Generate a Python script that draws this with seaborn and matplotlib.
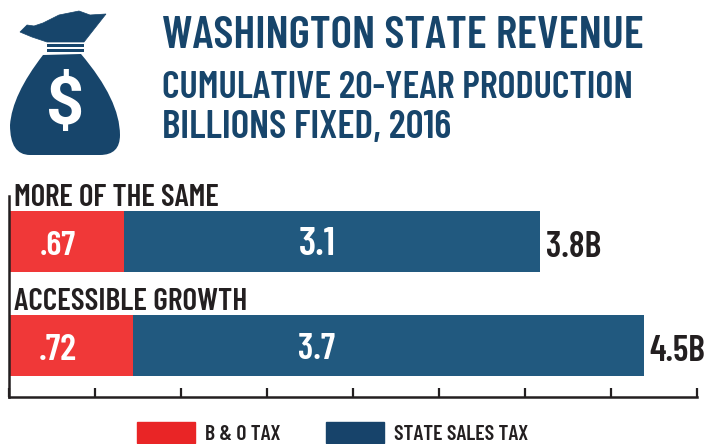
import matplotlib
matplotlib.use("Agg")
import matplotlib.pyplot as plt
from matplotlib.patches import PathPatch, Patch, Rectangle
from matplotlib.path import Path
from matplotlib import font_manager as fm
import seaborn as sns
import pandas as pd

scenarios = ["MORE OF THE SAME", "ACCESSIBLE GROWTH"]
bo_tax = [0.67, 0.72]
sales_tax_drawn = [2.417, 2.97]
bo_labels = [".67", ".72"]
sales_labels = ["3.1", "3.7"]
total_labels = ["3.8B", "4.5B"]
tick_values = [0, .5, 1, 1.5, 2, 2.5, 3, 3.5, 4]

W, H = 707, 444
sns.set_theme(style="white")
installed = {f.name for f in fm.fontManager.ttflist}
NARROW = [n for n in ["Barlow Condensed", "Oswald", "Archivo Narrow", "Roboto"] if n in installed] + ["DejaVu Sans"]
plt.rcParams["font.family"] = NARROW
INK = "#231F20"; NAVY = "#17456B"
WT = 600

fig = plt.figure(figsize=(W / 100, H / 100), dpi=100)
ax = fig.add_axes([9 / W, 1 - 397 / H, 688 / W, 201 / H])
df = pd.DataFrame({"scenario": scenarios, "bo": bo_tax, "sales": sales_tax_drawn})
df["total"] = df["bo"] + df["sales"]
sns.barplot(data=df, y="scenario", x="total", color="#21597F", width=0.587, saturation=1, linewidth=0, ax=ax, orient="h")
sns.barplot(data=df, y="scenario", x="bo", color="#F03838", width=0.587, saturation=1, linewidth=0, ax=ax, orient="h")
ax.set_xlim(0, 4); ax.set_ylim(1.495, -0.4375)
ax.set_xlabel(""); ax.set_ylabel("")
ax.set_yticks([]); ax.set_xticks(tick_values); ax.set_xticklabels([])
ax.tick_params(axis="x", direction="in", length=6.5, width=1.6, color=INK, bottom=True)
for s in ("top", "right"):
    ax.spines[s].set_visible(False)
for s in ("left", "bottom"):
    ax.spines[s].set_color(INK); ax.spines[s].set_linewidth(1.8)
ax.patch.set_alpha(0)

renderer = fig.canvas.get_renderer()
def fit(t, width_px):
    """Scale a text's font size so that it spans the reference's width."""
    t.set_fontsize(t.get_fontsize() * width_px / t.get_window_extent(renderer).width)
    return t

bo_w = [36, 38]; sales_w = [37, 37]; total_w = [55, 56]; name_w = [206, 233]
for i, row in df.iterrows():
    fit(ax.text(0.285, i + .045, bo_labels[i], color="white", ha="center", va="center", fontsize=25, fontweight=WT), bo_w[i])
    fit(ax.text(1.79, i + .035, sales_labels[i], color="white", ha="center", va="center", fontsize=25, fontweight=WT), sales_w[i])
    fit(ax.text(row.total + .035, i + .055, total_labels[i], color=INK, ha="left", va="center", fontsize=26, fontweight=WT), total_w[i])
    fit(ax.text(0.03, i - .28, scenarios[i], color=INK, ha="left", va="bottom", fontsize=21, fontweight=WT), name_w[i])

def px(x, y):
    return (x / W, 1 - y / H)

fit(fig.text(*px(162, 48), "WASHINGTON STATE REVENUE", color=NAVY, fontsize=33, fontweight=WT, va="baseline"), 482)
fit(fig.text(*px(162, 98), "CUMULATIVE 20-YEAR PRODUCTION", color=NAVY, fontsize=27, fontweight=WT, va="baseline"), 471)
fit(fig.text(*px(162, 138), "BILLIONS FIXED, 2016", color=NAVY, fontsize=27, fontweight=WT, va="baseline"), 289)

# money-bag icon
C3 = Path.CURVE3
tuft = [(20, 32), (27, 25), (34, 26), (43, 23), (59, 15), (79, 11), (90, 15), (106, 14), (84, 42), (47, 42), (32, 37), (20, 32)]
verts = [px(*p) for p in tuft] + [px(*tuft[0])]
codes = [Path.MOVETO] + [Path.LINETO] * (len(tuft) - 1) + [Path.CLOSEPOLY]
fig.add_artist(PathPatch(Path(verts, codes), transform=fig.transFigure, fc=NAVY, ec=NAVY, lw=0.5))
for y in (45, 50):
    fig.add_artist(Rectangle(px(47, y + 2), 37 / W, 2.5 / H, transform=fig.transFigure, fc=NAVY, ec="none"))
bag = [((43, 55), Path.MOVETO), ((81, 54), Path.LINETO), ((120, 100), C3), ((120, 135), C3),
       ((120, 155), C3), ((100, 155), C3), ((30, 155), Path.LINETO), ((10, 155), C3), ((10, 125), C3),
       ((12, 95), C3), ((43, 55), C3), ((43, 55), Path.CLOSEPOLY)]
fig.add_artist(PathPatch(Path([px(*p) for p, _ in bag], [c for _, c in bag]), transform=fig.transFigure, fc=NAVY, ec="none"))
fig.text(*px(65, 106), "$", color="white", fontsize=48, fontweight="bold", ha="center", va="center", family=["Roboto", "DejaVu Sans"])

handles = [Patch(color="#E92526", label="B & O TAX"), Patch(color="#17436A", label="STATE SALES TAX")]
leg = fig.legend(handles=handles, ncols=2, loc="lower left", bbox_to_anchor=(137 / W, 0), frameon=False,
                 handlelength=2.68, handleheight=1.1, handletextpad=0.46, columnspacing=2.08, borderpad=0, borderaxespad=0,
                 prop={"family": NARROW, "weight": WT, "size": 15.6}, labelcolor=INK)
fig.savefig("out.png", dpi=100)
